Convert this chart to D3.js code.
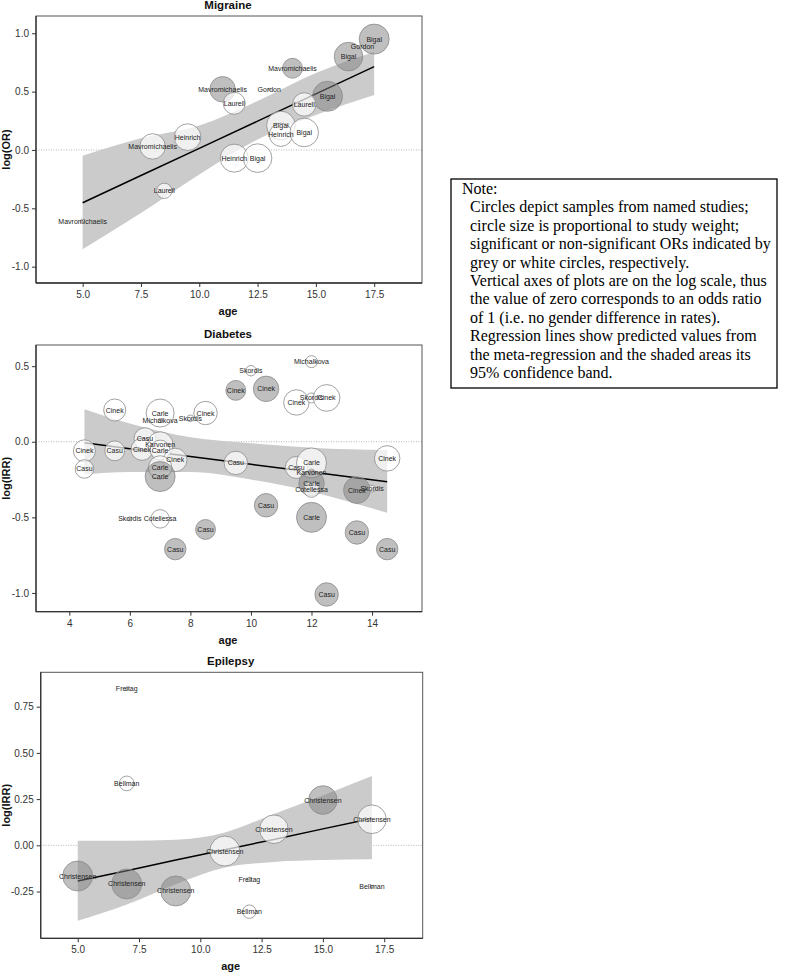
<!DOCTYPE html>
<html>
<head>
<meta charset="utf-8">
<script src="https://cdn.jsdelivr.net/npm/d3@7"></script>
<style>
  html, body { margin: 0; padding: 0; background: #fff; }
  svg { display: block; }
</style>
</head>
<body>
<svg id="chart" width="789" height="974"></svg>
<script>
// ---------------- DATA ----------------
// Migraine
const migLabels = ["Bigal","Gordon","Bigal","Mavromichaelis","Mavromichaelis","Gordon","Laurell","Bigal","Laurell","Bigal","Heinrich","Bigal","Heinrich","Mavromichaelis","Heinrich","Bigal","Laurell","Mavromichaelis"];
const migAge    = [17.5, 17.0, 16.4, 14.0, 11.0, 13.0, 11.5, 15.5, 14.5, 13.5, 13.5, 14.5, 9.5, 8.0, 11.5, 12.5, 8.5, 5.0];
const migValue  = [0.95, 0.89, 0.80, 0.70, 0.52, 0.52, 0.40, 0.46, 0.39, 0.21, 0.13, 0.15, 0.11, 0.03, -0.07, -0.07, -0.35, -0.61];
const migWeight = [100, 0.5, 91, 44, 72, 0.5, 54, 100, 61, 91, 60, 91, 79, 72, 87, 91, 26, 2];
const migSig    = [1, 0, 1, 1, 1, 0, 0, 1, 0, 0, 0, 0, 0, 0, 0, 0, 0, 0];
const migBandAge   = [5, 7.5, 10, 12.5, 15, 17.5];
const migFit       = [-0.452, -0.219, 0.014, 0.247, 0.481, 0.714];
const migBandUpper = [-0.05, 0.10, 0.21, 0.42, 0.66, 0.84];
const migBandLower = [-0.85, -0.54, -0.21, 0.09, 0.30, 0.47];
const migXTicks = [5.0, 7.5, 10.0, 12.5, 15.0, 17.5];
const migYTicks = [-1.0, -0.5, 0.0, 0.5, 1.0];

// Diabetes
const diaLabels = ["Michalkova","Skordis","Cinek","Cinek","Cinek","Skordis","Cinek","Cinek","Carle","Michalkova","Skordis","Cinek","Casu","Karvonen","Cinek","Carle","Cinek","Casu","Casu","Cinek","Carle","Carle","Casu","Casu","Carle","Karvonen","Carle","Cotellessa","Cinek","Skordis","Cinek","Casu","Carle","Skordis","Cotellessa","Casu","Casu","Casu","Casu","Casu"];
const diaAge    = [12.0, 10.0, 9.5, 10.5, 11.5, 12.0, 12.5, 5.5, 7.0, 7.0, 8.0, 8.5, 6.5, 7.0, 6.4, 7.0, 4.5, 5.5, 4.5, 7.5, 7.0, 7.0, 9.5, 11.5, 12.0, 12.0, 12.0, 12.0, 13.5, 14.0, 14.5, 10.5, 12.0, 6.0, 7.0, 8.5, 13.5, 7.5, 14.5, 12.5];
const diaValue  = [0.53, 0.47, 0.34, 0.35, 0.26, 0.29, 0.29, 0.21, 0.19, 0.14, 0.155, 0.19, 0.02, -0.02, -0.05, -0.055, -0.06, -0.06, -0.18, -0.12, -0.17, -0.23, -0.14, -0.17, -0.14, -0.20, -0.275, -0.315, -0.32, -0.31, -0.11, -0.42, -0.50, -0.51, -0.51, -0.58, -0.60, -0.71, -0.71, -1.01];
const diaWeight = [16, 12, 44, 72, 72, 11, 79, 54, 87, 2, 5, 61, 54, 75, 54, 44, 54, 44, 38, 61, 61, 100, 61, 54, 100, 4, 72, 28, 79, 5, 72, 61, 100, 2, 38, 44, 61, 51, 51, 61];
const diaSig    = [0, 0, 1, 1, 0, 0, 0, 0, 0, 0, 0, 0, 0, 0, 0, 0, 0, 0, 0, 0, 0, 1, 0, 0, 0, 0, 1, 0, 1, 0, 0, 1, 1, 0, 0, 1, 1, 1, 1, 1];
const diaBandAge   = [4.5, 6, 8, 10, 12, 14.5];
const diaFit       = [-0.007, -0.046, -0.097, -0.149, -0.200, -0.265];
const diaBandUpper = [0.215, 0.12, 0.03, -0.01, -0.04, -0.055];
const diaBandLower = [-0.215, -0.20, -0.20, -0.25, -0.33, -0.47];
const diaXTicks = [4, 6, 8, 10, 12, 14];
const diaYTicks = [-1.0, -0.5, 0.0, 0.5];

// Epilepsy
const epiLabels = ["Freitag","Bellman","Christensen","Christensen","Christensen","Christensen","Christensen","Christensen","Christensen","Freitag","Bellman","Bellman"];
const epiAge    = [7.0, 7.0, 15.0, 17.0, 13.0, 11.0, 5.0, 7.0, 9.0, 12.0, 12.0, 17.0];
const epiValue  = [0.846, 0.335, 0.245, 0.141, 0.087, -0.031, -0.166, -0.209, -0.247, -0.184, -0.359, -0.224];
const epiWeight = [1, 24, 91, 91, 91, 100, 100, 100, 100, 2, 20, 1];
const epiSig    = [0, 0, 1, 0, 0, 0, 1, 1, 1, 0, 0, 0];
const epiBandAge   = [5, 7, 9, 11, 13, 15, 17];
const epiFit       = [-0.193, -0.137, -0.080, -0.024, 0.032, 0.089, 0.145];
const epiBandUpper = [0.025, 0.025, 0.03, 0.07, 0.17, 0.27, 0.375];
const epiBandLower = [-0.408, -0.32, -0.21, -0.12, -0.09, -0.08, -0.076];
const epiXTicks = [5.0, 7.5, 10.0, 12.5, 15.0, 17.5];
const epiYTicks = [-0.25, 0.00, 0.25, 0.50, 0.75];

const noteLines = [
  "Note:",
  "Circles depict samples from named studies;",
  "circle size is proportional to study weight;",
  "significant or non-significant ORs indicated by",
  "grey or white circles, respectively.",
  "Vertical axes of plots are on the log scale, thus",
  "the value of zero corresponds to an odds ratio",
  "of 1 (i.e. no gender difference in rates).",
  "Regression lines show predicted values from",
  "the meta-regression and the shaded areas its",
  "95% confidence band."
];

// ---------------- DRAW ----------------
const svg = d3.select("#chart");
const FONT = "'Liberation Sans', Arial, Helvetica, sans-serif";
const rScale = d3.scaleSqrt().domain([0, 100]).range([0, 15]);

function panel(cfg) {
  const { left, right, top, bottom, xDomain, yDomain } = cfg;
  const x = d3.scaleLinear().domain(xDomain).range([left, right]);
  const y = d3.scaleLinear().domain(yDomain).range([bottom, top]);
  const g = svg.append("g");
  const clipId = "clip" + cfg.id;
  svg.append("clipPath").attr("id", clipId).append("rect")
    .attr("x", left).attr("y", top).attr("width", right - left).attr("height", bottom - top);

  // title
  g.append("text").attr("x", (left + right) / 2 - 1).attr("y", top - 7.5)
    .attr("text-anchor", "middle").attr("font-family", FONT).attr("font-weight", "bold")
    .attr("font-size", 11.5).attr("fill", "#111").text(cfg.title);

  // zero reference line
  g.append("line").attr("x1", left).attr("x2", right).attr("y1", y(0)).attr("y2", y(0))
    .attr("stroke", "#b5b5b5").attr("stroke-width", 1).attr("stroke-dasharray", "1,1.5");

  const inner = g.append("g").attr("clip-path", `url(#${clipId})`);

  // band
  const bandData = cfg.bandAge.map((a, i) => ({ a, u: cfg.upper[i], l: cfg.lower[i], f: cfg.fit[i] }));
  inner.append("path").datum(bandData)
    .attr("d", d3.area().x(d => x(d.a)).y0(d => y(d.l)).y1(d => y(d.u)).curve(d3.curveMonotoneX))
    .attr("fill", "#cbcbcb");
  // regression line
  inner.append("path").datum(bandData)
    .attr("d", d3.line().x(d => x(d.a)).y(d => y(d.f)))
    .attr("fill", "none").attr("stroke", "#000").attr("stroke-width", 1.5);

  // points
  const pts = cfg.age.map((a, i) => ({ a, v: cfg.value[i], w: cfg.weight[i], s: cfg.sig[i], lab: cfg.labels[i] }));
  inner.selectAll("circle.pt").data(pts).enter().append("circle")
    .attr("cx", d => x(d.a)).attr("cy", d => y(d.v)).attr("r", d => rScale(d.w))
    .attr("fill", d => d.s ? "#808080" : "#ffffff")
    .attr("fill-opacity", d => d.s ? 0.5 : 0.7)
    .attr("stroke", "#8a8a8a").attr("stroke-width", 0.8);
  inner.selectAll("text.lab").data(pts).enter().append("text")
    .attr("x", d => x(d.a)).attr("y", d => y(d.v) + 2.5)
    .attr("text-anchor", "middle").attr("font-family", FONT).attr("font-size", 7)
    .attr("fill", "#222").text(d => d.lab);

  // frame
  g.append("rect").attr("x", left).attr("y", top).attr("width", right - left).attr("height", bottom - top)
    .attr("fill", "none").attr("stroke", "#555").attr("stroke-width", 1);
  g.append("line").attr("x1", left).attr("x2", left).attr("y1", top).attr("y2", bottom)
    .attr("stroke", "#333").attr("stroke-width", 1.3);
  g.append("line").attr("x1", left).attr("x2", right).attr("y1", bottom).attr("y2", bottom)
    .attr("stroke", "#333").attr("stroke-width", 1.3);

  // axes
  const xAxis = d3.axisBottom(x).tickValues(cfg.xTicks).tickFormat(d3.format(cfg.xFmt)).tickSize(4).tickPadding(4);
  const yAxis = d3.axisLeft(y).tickValues(cfg.yTicks).tickFormat(d3.format(cfg.yFmt)).tickSize(4).tickPadding(3);
  const gx = g.append("g").attr("transform", `translate(0,${bottom})`).call(xAxis);
  const gy = g.append("g").attr("transform", `translate(${left},0)`).call(yAxis);
  [gx, gy].forEach(a => {
    a.select(".domain").remove();
    a.selectAll(".tick line").attr("stroke", "#333");
    a.selectAll(".tick text").attr("font-family", FONT).attr("font-size", 10).attr("fill", "#333");
  });
  gy.selectAll(".tick text").text(d => d3.format(cfg.yFmt)(d).replace("−", "-"));
  gx.selectAll(".tick text").text(d => d3.format(cfg.xFmt)(d).replace("−", "-"));

  // axis titles
  g.append("text").attr("x", (left + right) / 2 - 1).attr("y", bottom + 32)
    .attr("text-anchor", "middle").attr("font-family", FONT).attr("font-weight", "bold")
    .attr("font-size", 11).attr("fill", "#111").text("age");
  g.append("text").attr("transform", `translate(10,${(top + bottom) / 2}) rotate(-90)`)
    .attr("text-anchor", "middle").attr("font-family", FONT).attr("font-weight", "bold")
    .attr("font-size", 11).attr("fill", "#111").text(cfg.yTitle);
}

panel({ id: "m", title: "Migraine", yTitle: "log(OR)", left: 36, right: 422, top: 16, bottom: 283,
  xDomain: [3, 19.55], yDomain: [-1.14, 1.148], xTicks: migXTicks, yTicks: migYTicks, xFmt: ".1f", yFmt: ".1f",
  age: migAge, value: migValue, weight: migWeight, sig: migSig, labels: migLabels,
  bandAge: migBandAge, fit: migFit, upper: migBandUpper, lower: migBandLower });

panel({ id: "d", title: "Diabetes", yTitle: "log(IRR)", left: 36, right: 422, top: 345, bottom: 611.7,
  xDomain: [2.9, 15.65], yDomain: [-1.124, 0.64], xTicks: diaXTicks, yTicks: diaYTicks, xFmt: "d", yFmt: ".1f",
  age: diaAge, value: diaValue, weight: diaWeight, sig: diaSig, labels: diaLabels,
  bandAge: diaBandAge, fit: diaFit, upper: diaBandUpper, lower: diaBandLower });

panel({ id: "e", title: "Epilepsy", yTitle: "log(IRR)", left: 40.7, right: 422.7, top: 672.3, bottom: 938.3,
  xDomain: [3.49, 19.07], yDomain: [-0.503, 0.936], xTicks: epiXTicks, yTicks: epiYTicks, xFmt: ".1f", yFmt: ".2f",
  age: epiAge, value: epiValue, weight: epiWeight, sig: epiSig, labels: epiLabels,
  bandAge: epiBandAge, fit: epiFit, upper: epiBandUpper, lower: epiBandLower });

// note box
const note = svg.append("g");
note.append("rect").attr("x", 451).attr("y", 179).attr("width", 326).attr("height", 209)
  .attr("fill", "#fff").attr("stroke", "#000").attr("stroke-width", 1.3);
note.selectAll("text").data(noteLines).enter().append("text")
  .attr("x", (d, i) => i === 0 ? 462 : 470)
  .attr("y", (d, i) => 194 + i * 18.4)
  .attr("font-family", "'Liberation Serif', 'Times New Roman', serif")
  .attr("font-size", 16).attr("fill", "#000").text(d => d);
</script>
</body>
</html>
